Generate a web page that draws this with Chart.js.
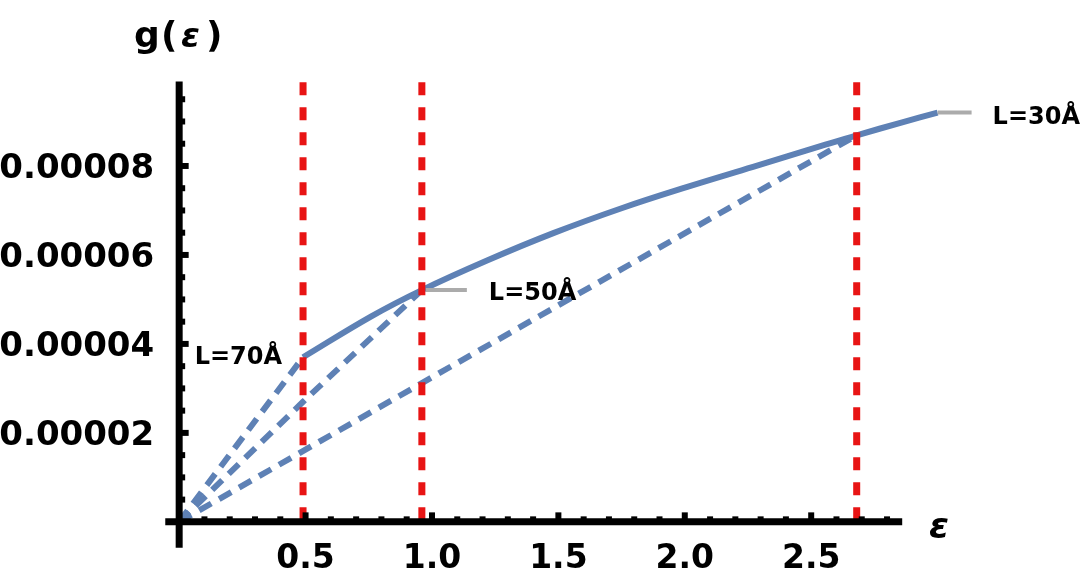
<!DOCTYPE html>
<html>
<head>
<meta charset="utf-8">
<script src="https://cdn.jsdelivr.net/npm/chart.js@4.4.1/dist/chart.umd.min.js"></script>
<style>
  html, body { margin: 0; padding: 0; background: #fff; }
  #wrap { width: 1089px; height: 576px; position: relative; }
</style>
</head>
<body>
<div id="wrap"><canvas id="myChart"></canvas></div>
<script>
// envelope curve g(eps)
const envEps = [0.49, 0.76, 0.96, 1.22, 1.48, 1.75, 2.01, 2.27, 2.54, 2.68, 2.86, 3.0];
const envG = [3.70e-5, 4.62e-5, 5.21e-5, 5.88e-5, 6.49e-5, 7.05e-5, 7.53e-5, 7.98e-5, 8.45e-5, 8.69e-5, 8.98e-5, 9.20e-5];

// dashed lines for each width L
const l70Eps = [0, 0.49];
const l70G = [0, 3.70e-5];
const l50Eps = [0, 0.49, 0.96];
const l50G = [0, 2.70e-5, 5.21e-5];
const l30Eps = [0, 0.96, 1.88, 2.68];
const l30G = [0, 3.12e-5, 6.10e-5, 8.69e-5];

// cut-off energies (red dashed verticals)
const cutEps = [0.49, 0.96, 2.68];
const cutTop = 0.0000988;
const seriesLabels = ["L=70Å", "L=50Å", "L=30Å"];

const xTicks = [0.5, 1.0, 1.5, 2.0, 2.5];
const xTickLabels = ["0.5", "1.0", "1.5", "2.0", "2.5"];
const yTicks = [0.00002, 0.00004, 0.00006, 0.00008];
const yTickLabels = ["0.00002", "0.00004", "0.00006", "0.00008"];

const BLUE = "#5E81B5";
const RED = "#E81414";
const FONT = "'DejaVu Sans', Verdana, sans-serif";

function toPts(xs, ys) {
  return xs.map((x, i) => ({ x: x, y: ys[i] }));
}

function dashedSet(xs, ys) {
  return {
    data: toPts(xs, ys),
    borderColor: BLUE,
    borderWidth: 6,
    borderDash: [14, 9],
    pointRadius: 0,
    fill: false,
    order: 1
  };
}

const datasets = [
  {
    data: toPts(envEps, envG),
    borderColor: BLUE,
    borderWidth: 6,
    pointRadius: 0,
    tension: 0.4,
    fill: false,
    order: 1
  },
  dashedSet(l70Eps, l70G),
  dashedSet(l50Eps, l50G),
  dashedSet(l30Eps, l30G)
];

cutEps.forEach(c => {
  datasets.push({
    data: [{ x: c, y: cutTop }, { x: c, y: 0 }],
    borderColor: RED,
    borderWidth: 7,
    borderDash: [13, 12],
    pointRadius: 0,
    fill: false,
    order: 0
  });
});

//axes, ticks and text labels drawn with the chart scales
const axesPlugin = {
  id: "axesPlugin",
  afterDatasetsDraw(chart) {
    const ctx = chart.ctx;
    const xs = chart.scales.x;
    const ys = chart.scales.y;
    const x0 = xs.getPixelForValue(0);
    const y0 = ys.getPixelForValue(0);
    ctx.save();
    ctx.strokeStyle = "#000";
    ctx.fillStyle = "#000";
    ctx.lineCap = "butt";

    // axis lines
    ctx.lineWidth = 7;
    ctx.beginPath();
    ctx.moveTo(xs.getPixelForValue(-0.055), y0);
    ctx.lineTo(xs.getPixelForValue(2.86), y0);
    ctx.stroke();
    ctx.beginPath();
    ctx.moveTo(x0, ys.getPixelForValue(-0.0000058));
    ctx.lineTo(x0, ys.getPixelForValue(0.0000990));
    ctx.stroke();

    // x ticks (minor every 0.1)
    ctx.lineWidth = 6;
    for (let i = 1; i <= 28; i++) {
      const px = xs.getPixelForValue(i / 10);
      const major = i % 5 === 0;
      ctx.beginPath();
      ctx.moveTo(px, y0);
      ctx.lineTo(px, y0 - 3.5 - (major ? 6 : 2));
      ctx.stroke();
    }
    // y ticks (minor every 0.000005)
    for (let i = 1; i <= 19; i++) {
      const py = ys.getPixelForValue(i * 0.000005);
      const major = i % 4 === 0;
      ctx.beginPath();
      ctx.moveTo(x0, py);
      ctx.lineTo(x0 + 3.5 + (major ? 6 : 2.5), py);
      ctx.stroke();
    }

    // tick labels
    ctx.font = "bold 33px " + FONT;
    ctx.textBaseline = "alphabetic";
    ctx.textAlign = "center";
    xTicks.forEach((v, i) => {
      ctx.fillText(xTickLabels[i], xs.getPixelForValue(v), y0 + 46.5);
    });
    ctx.font = "bold 34px " + FONT;
    ctx.textAlign = "right";
    yTicks.forEach((v, i) => {
      ctx.fillText(yTickLabels[i], x0 - 25, ys.getPixelForValue(v) + 12);
    });

    // axis titles
    ctx.textAlign = "left";
    ctx.font = "bold 36px " + FONT;
    ctx.fillText("g", 134, 47);
    ctx.fillText("(", 161, 47);
    ctx.fillText(")", 206, 47);
    ctx.font = "bold italic 34px " + FONT;
    ctx.fillText("ε", 181, 47);

    ctx.font = "bold italic 36px " + FONT;
    ctx.fillText("ε", 929, 538);

    // series labels with grey leaders
    const a70 = { x: xs.getPixelForValue(l70Eps[1]), y: ys.getPixelForValue(l70G[1]) };
    const a50 = { x: xs.getPixelForValue(l50Eps[2]), y: ys.getPixelForValue(l50G[2]) };
    const a30 = { x: xs.getPixelForValue(envEps[envEps.length - 1]), y: ys.getPixelForValue(envG[envG.length - 1]) };

    ctx.strokeStyle = "#ABABAB";
    ctx.lineWidth = 4;
    ctx.beginPath();
    ctx.moveTo(a50.x + 4, a50.y);
    ctx.lineTo(a50.x + 45, a50.y);
    ctx.stroke();
    ctx.beginPath();
    ctx.moveTo(a30.x, a30.y);
    ctx.lineTo(a30.x + 34, a30.y);
    ctx.stroke();

    ctx.font = "bold 24px " + FONT;
    ctx.fillStyle = "#000";
    ctx.textAlign = "right";
    ctx.fillText(seriesLabels[0], a70.x - 21, a70.y + 7);
    ctx.textAlign = "left";
    ctx.fillText(seriesLabels[1], a50.x + 67, a50.y + 10);
    ctx.fillText(seriesLabels[2], a30.x + 55, a30.y + 11);

    ctx.restore();
  }
};

const ctxEl = document.getElementById("myChart");
const newchart = new Chart(ctxEl, {
  type: "line",
  data: { datasets: datasets },
  options: {
    responsive: true,
    maintainAspectRatio: false,
    animation: false,
    layout: { padding: { left: 164, right: 25, top: 77, bottom: 23 } },
    plugins: {
      legend: { display: false },
      tooltip: { enabled: false },
      title: { display: false }
    },
    scales: {
      x: { type: "linear", min: -0.06, max: 3.5, display: false },
      y: { type: "linear", min: -0.000007, max: 0.0001, display: false }
    }
  },
  plugins: [axesPlugin]
});
</script>
</body>
</html>
